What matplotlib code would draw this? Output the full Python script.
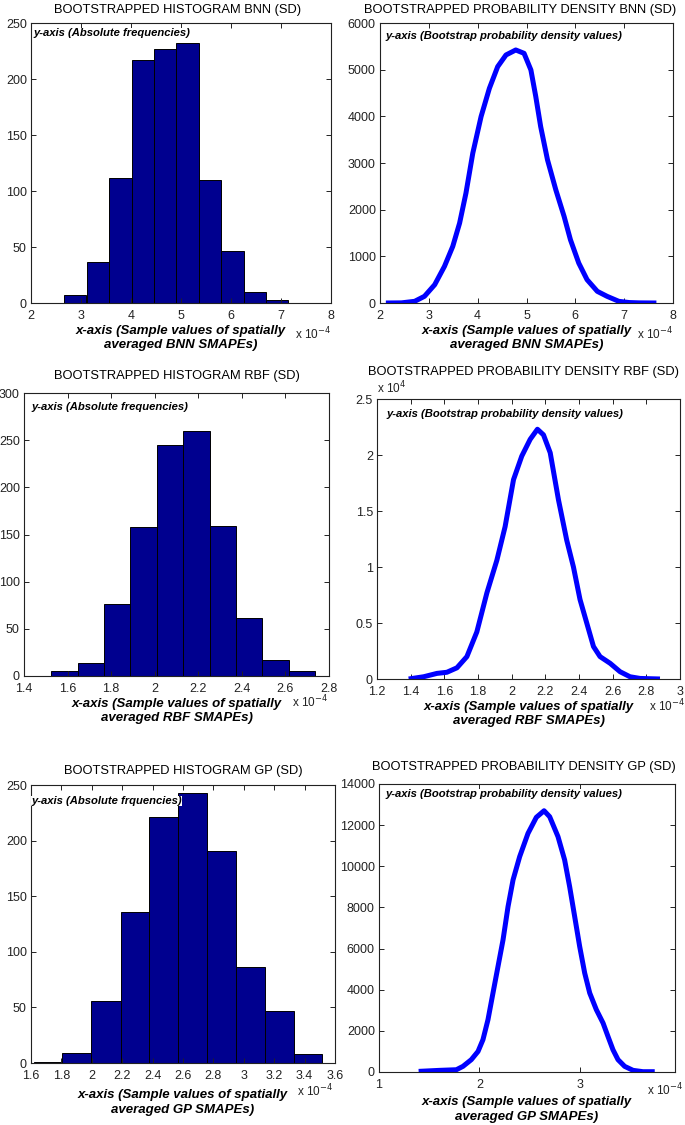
import numpy as np
import matplotlib
matplotlib.use("Agg")
import matplotlib.pyplot as plt
from matplotlib.ticker import FormatStrFormatter, MultipleLocator

plt.rcParams["font.family"] = ["Liberation Sans", "DejaVu Sans"]

# ===== data (x values in units of 1e-4) =====
bnn_edges = [2.66, 3.11, 3.56, 4.01, 4.46, 4.90, 5.36, 5.80, 6.25, 6.70, 7.14]
bnn_counts = [7, 37, 112, 217, 227, 232, 110, 46, 10, 3]
rbf_edges = [1.525, 1.647, 1.768, 1.887, 2.009, 2.130, 2.252, 2.373, 2.493, 2.615, 2.736]
rbf_counts = [5, 14, 76, 158, 245, 260, 159, 61, 17, 5]
gp_edges = [1.617, 1.806, 1.997, 2.189, 2.378, 2.566, 2.757, 2.947, 3.138, 3.327, 3.515]
gp_counts = [1, 9, 56, 136, 221, 243, 191, 86, 47, 8]

bnn_x = [2.12, 2.44, 2.71, 2.91, 3.12, 3.32, 3.49, 3.63, 3.76, 3.90, 4.07,
         4.24, 4.41, 4.58, 4.78, 4.95, 5.09, 5.19, 5.29, 5.43, 5.60, 5.77,
         5.90, 6.07, 6.24, 6.45, 6.65, 6.89, 7.10, 7.30, 7.66]
bnn_y = [0, 3, 36, 143, 392, 785, 1213, 1712, 2354, 3210, 3995,
         4600, 5065, 5315, 5422, 5350, 4994, 4423, 3781, 3068, 2426, 1855,
         1355, 856, 500, 250, 143, 36, 10, 3, 0]

rbf_x = [1.388, 1.477, 1.556, 1.615, 1.675, 1.734, 1.793, 1.853, 1.912, 1.961,
         2.011, 2.060, 2.110, 2.153, 2.189, 2.229, 2.278, 2.327, 2.367, 2.406,
         2.446, 2.486, 2.525, 2.585, 2.644, 2.703, 2.763, 2.881]
rbf_y = [0, 0.02, 0.05, 0.06, 0.10, 0.20, 0.42, 0.77, 1.06, 1.36,
         1.78, 1.99, 2.14, 2.23, 2.18, 2.02, 1.60, 1.24, 1.00, 0.71,
         0.50, 0.29, 0.20, 0.14, 0.065, 0.02, 0.005, 0]

gp_x = [1.395, 1.605, 1.771, 1.837, 1.920, 1.987, 2.036, 2.086, 2.136, 2.186,
        2.236, 2.286, 2.336, 2.402, 2.485, 2.568, 2.645, 2.701, 2.784, 2.850,
        2.900, 2.950, 3.000, 3.050, 3.100, 3.166, 3.233, 3.282, 3.332, 3.382,
        3.448, 3.532, 3.631, 3.748]
gp_y = [30, 80, 110, 275, 600, 1000, 1570, 2540, 3840, 5130,
        6420, 8040, 9340, 10470, 11600, 12380, 12700, 12410, 11440, 10310,
        9010, 7560, 6100, 4810, 3840, 3030, 2380, 1730, 1080, 600,
        275, 80, 15, 15]

titles = [
    "BOOTSTRAPPED HISTOGRAM BNN (SD)", "BOOTSTRAPPED PROBABILITY DENSITY BNN (SD)",
    "BOOTSTRAPPED HISTOGRAM RBF (SD)", "BOOTSTRAPPED PROBABILITY DENSITY RBF (SD)",
    "BOOTSTRAPPED HISTOGRAM GP (SD)", "BOOTSTRAPPED PROBABILITY DENSITY GP (SD)",
]
ytexts = [
    "y-axis (Absolute frequencies)", "y-axis (Bootstrap probability density values)",
    "y-axis (Absolute frequencies)", "y-axis (Bootstrap probability density values)",
    "y-axis (Absolute frquencies)", "y-axis (Bootstrap probability density values)",
]
xlabels = [
    "x-axis (Sample values of spatially\naveraged BNN SMAPEs)",
    "x-axis (Sample values of spatially\naveraged BNN SMAPEs)",
    "x-axis (Sample values of spatially\naveraged RBF SMAPEs)",
    "x-axis (Sample values of spatially\naveraged RBF SMAPEs)",
    "x-axis (Sample values of spatially\naveraged GP SMAPEs)",
    "x-axis (Sample values of spatially\naveraged GP SMAPEs)",
]
# =============================================

W, H = 685, 1125
fig = plt.figure(figsize=(W / 100, H / 100), dpi=100)
fig.patch.set_facecolor("white")

# (left, right, top, bottom) in pixels
boxes = [
    (31, 331, 23, 303), (380, 673, 23, 303),
    (24, 329, 393, 676), (377, 680, 399, 679),
    (31, 335, 785, 1063), (379, 675, 784, 1072),
]
title_x = [0.49, 0.478, 0.5, 0.485, 0.5, 0.49]
title_pads = [7, 7, 10, 17, 8, 10]
label_pads = [2, 2, 2, 2, 5, 4]
ytext_off = [(2, 5), (5, 8), (7, 9), (9, 10), (0, 11), (6, 5)]
xexp_off = [(0, 31), (0, 31), (-1, 26), (5, 27), (-2, 28), (8, 18)]

axes = []
for (l, r, t, b) in boxes:
    ax = fig.add_axes([l / W, 1 - b / H, (r - l) / W, (b - t) / H])
    axes.append(ax)

bar_color = "#00008F"
line_color = "#0000FF"

hists = [(bnn_edges, bnn_counts), (rbf_edges, rbf_counts), (gp_edges, gp_counts)]
curves = [(bnn_x, bnn_y), (rbf_x, rbf_y), (gp_x, gp_y)]

for k in range(3):
    edges, counts = hists[k]
    e = np.array(edges)
    axes[2 * k].bar(e[:-1], counts, width=np.diff(e), align="edge",
                    color=bar_color, edgecolor="black", linewidth=0.7)
    cx, cy = curves[k]
    axes[2 * k + 1].plot(cx, cy, color=line_color, linewidth=3.6,
                         solid_capstyle="butt", solid_joinstyle="round")

# limits and ticks
axes[0].set_xlim(2, 8); axes[0].set_ylim(0, 250)
axes[0].xaxis.set_major_locator(MultipleLocator(1))
axes[0].yaxis.set_major_locator(MultipleLocator(50))
axes[1].set_xlim(2, 8); axes[1].set_ylim(0, 6000)
axes[1].xaxis.set_major_locator(MultipleLocator(1))
axes[1].yaxis.set_major_locator(MultipleLocator(1000))
axes[2].set_xlim(1.4, 2.8); axes[2].set_ylim(0, 300)
axes[2].set_xticks(np.arange(1.4, 2.81, 0.2))
axes[2].yaxis.set_major_locator(MultipleLocator(50))
axes[3].set_xlim(1.2, 3.0); axes[3].set_ylim(0, 2.5)
axes[3].set_xticks(np.arange(1.2, 3.01, 0.2))
axes[3].yaxis.set_major_locator(MultipleLocator(0.5))
axes[4].set_xlim(1.6, 3.6); axes[4].set_ylim(0, 250)
axes[4].set_xticks(np.arange(1.6, 3.61, 0.2))
axes[4].yaxis.set_major_locator(MultipleLocator(50))
axes[5].set_xlim(1, 3.95); axes[5].set_ylim(0, 14000)
axes[5].set_xticks([1, 2, 3])
axes[5].yaxis.set_major_locator(MultipleLocator(2000))

for i, ax in enumerate(axes):
    ax.xaxis.set_major_formatter(FormatStrFormatter("%g"))
    ax.yaxis.set_major_formatter(FormatStrFormatter("%g"))
    ax.tick_params(direction="in", top=True, right=True, length=3.5,
                   width=0.7, labelsize=9, colors="#222222")
    ax.tick_params(axis="x", pad=5)
    ax.tick_params(axis="y", pad=3)
    for sp in ax.spines.values():
        sp.set_linewidth(0.8)
        sp.set_edgecolor("#222222")
    ax.set_title(titles[i], fontsize=9.3, pad=title_pads[i], x=title_x[i])
    ax.set_xlabel(xlabels[i], fontsize=9.5, fontweight="bold", style="italic",
                  labelpad=label_pads[i], linespacing=1.3)
    dx, dy = ytext_off[i]
    ax.annotate(ytexts[i], xy=(0, 1), xycoords="axes fraction",
                xytext=(dx, -dy), textcoords="offset pixels",
                ha="left", va="top", fontsize=8.1, fontweight="bold",
                style="italic",
                bbox=dict(facecolor="white", edgecolor="none", pad=0.3))
    ex, ey = xexp_off[i]
    ax.annotate("x 10$^{-4}$", xy=(1, 0), xycoords="axes fraction",
                xytext=(ex, -ey), textcoords="offset pixels",
                ha="right", va="center", fontsize=8.5, color="#222222")

axes[3].annotate("x 10$^{4}$", xy=(0, 1), xycoords="axes fraction",
                 xytext=(0, 3), textcoords="offset pixels",
                 ha="left", va="bottom", fontsize=8.5, color="#222222")

fig.savefig("out.png", dpi=100, facecolor="white")
plt.close(fig)
